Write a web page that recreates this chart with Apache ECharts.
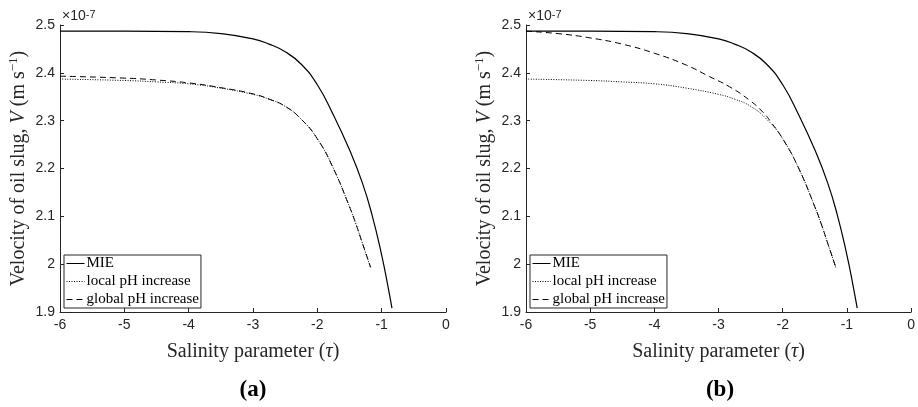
<!DOCTYPE html>
<html>
<head>
<meta charset="utf-8">
<script src="https://cdn.jsdelivr.net/npm/echarts@6/dist/echarts.min.js"></script>
<style>
    html, body { margin: 0; padding: 0; background: #fff; }
    #chart { width: 918px; height: 407px; }
</style>
</head>
<body>
<div id="chart"></div>
<script>
// values in units of 1e-7 m/s
var xTicks = [-6, -5, -4, -3, -2, -1, 0];
var yTicks = [1.9, 2, 2.1, 2.2, 2.3, 2.4, 2.5];

var mieX = [-6, -5, -4, -3.5, -3, -2.75, -2.5, -2.25, -2, -1.75, -1.5, -1.3, -1.15, -1, -0.9, -0.84];
var mieV = [2.487, 2.487, 2.486, 2.482, 2.471, 2.460, 2.444, 2.418, 2.375, 2.312, 2.239, 2.170, 2.103, 2.019, 1.952, 1.908];

var localX = [-6, -5, -4.5, -4, -3.5, -3, -2.75, -2.5, -2.25, -2, -1.75, -1.5, -1.4, -1.3, -1.17];
var localV = [2.387, 2.384, 2.381, 2.377, 2.368, 2.355, 2.345, 2.330, 2.303, 2.262, 2.200, 2.120, 2.084, 2.044, 1.992];

var globalAX = [-6, -5, -4.5, -4, -3.5, -3, -2.75, -2.5, -2.25, -2, -1.75, -1.5, -1.4, -1.3, -1.17];
var globalAV = [2.393, 2.389, 2.385, 2.379, 2.369, 2.356, 2.345, 2.330, 2.303, 2.262, 2.200, 2.120, 2.084, 2.044, 1.993];

var globalBX = [-6, -5.5, -5, -4.5, -4, -3.5, -3.14, -2.83, -2.52, -2.31, -2.2, -2, -1.75, -1.5, -1.4, -1.3, -1.17];
var globalBV = [2.487, 2.482, 2.473, 2.460, 2.441, 2.416, 2.392, 2.371, 2.343, 2.318, 2.300, 2.262, 2.200, 2.120, 2.084, 2.044, 1.992];

var seriesNames = ['MIE', 'local pH increase', 'global pH increase'];
var panelLabels = ['(a)', '(b)'];

var axisColor = '#262626';
var serif = '"Liberation Serif", "DejaVu Serif", serif';
var sans = '"Liberation Sans", Arial, sans-serif';

function pairs(xs, ys) {
    var out = [];
    for (var i = 0; i < xs.length; i++) {
        out.push([xs[i], ys[i]]);
    }
    return out;
}

function lineSeries(name, idx, xs, ys, type, width) {
    return {
        name: name,
        type: 'line',
        xAxisIndex: idx,
        yAxisIndex: idx,
        data: pairs(xs, ys),
        symbol: 'none',
        smooth: 0.5,
        lineStyle: { color: '#000', width: width, type: type },
        itemStyle: { color: '#000' },
        z: 3
    };
}

function xAxisFor(idx) {
    return {
        type: 'value',
        gridIndex: idx,
        position: 'bottom',
        min: xTicks[0],
        max: xTicks[xTicks.length - 1],
        interval: 1,
        name: 'Salinity parameter ({i|τ})',
        nameLocation: 'middle',
        nameGap: 30,
        nameTextStyle: {
            fontFamily: serif, fontSize: 20, color: axisColor,
            rich: { i: { fontFamily: serif, fontSize: 20, fontStyle: 'italic', color: axisColor } }
        },
        axisLine: { onZero: false, lineStyle: { color: axisColor, width: 1 } },
        axisTick: { inside: true, length: 4, lineStyle: { color: axisColor } },
        axisLabel: { fontFamily: sans, fontSize: 14, color: axisColor, margin: 6 },
        splitLine: { show: false }
    };
}

function yAxisFor(idx) {
    return {
        type: 'value',
        gridIndex: idx,
        position: 'left',
        min: yTicks[0],
        max: yTicks[yTicks.length - 1],
        interval: 0.1,
        name: 'Velocity of oil slug, {i|V} (m s{sup|−1})',
        nameLocation: 'middle',
        nameGap: 29,
        nameTextStyle: {
            fontFamily: serif, fontSize: 20, color: axisColor, lineHeight: 24,
            rich: {
                i: { fontFamily: serif, fontSize: 20, fontStyle: 'italic', color: axisColor, lineHeight: 24 },
                sup: { fontFamily: serif, fontSize: 13, color: axisColor, verticalAlign: 'top', lineHeight: 13 }
            }
        },
        axisLine: { show: true, onZero: false, lineStyle: { color: axisColor, width: 1 } },
        axisTick: { inside: true, length: 4, lineStyle: { color: axisColor } },
        axisLabel: {
            fontFamily: sans, fontSize: 14, color: axisColor, margin: 5,
            formatter: function (v) { return String(+v.toFixed(2)); }
        },
        splitLine: { show: false }
    };
}

function legendFor(left) {
    return {
        orient: 'vertical',
        left: left,
        top: 255,
        data: seriesNames,
        itemWidth: 18,
        itemHeight: 14,
        itemGap: 3,
        padding: [1, 2, 1, 2],
        borderColor: axisColor,
        borderWidth: 1,
        backgroundColor: '#fff',
        selectedMode: false,
        // hide the marker circle, keep only the line
        itemStyle: { color: 'rgba(0,0,0,0)', borderWidth: 0 },
        lineStyle: { width: 1 },
        textStyle: { fontFamily: serif, fontSize: 15, color: '#000', padding: [0, 0, 0, -3] }
    };
}

function exponentText(x) {
    return {
        type: 'text',
        left: x,
        top: 9,
        style: {
            text: '×10{s|-7}',
            fontFamily: sans,
            fontSize: 14,
            fill: axisColor,
            rich: { s: { fontFamily: sans, fontSize: 11, fill: axisColor, verticalAlign: 'top' } }
        }
    };
}

function panelText(label, cx) {
    return {
        type: 'text',
        x: cx,
        y: 390,
        style: {
            text: label,
            fontFamily: serif,
            fontWeight: 'bold',
            fontSize: 23,
            fill: '#000',
            align: 'center',
            verticalAlign: 'middle'
        }
    };
}

var chart = echarts.init(document.getElementById('chart'));
chart.setOption({
    animation: false,
    backgroundColor: '#fff',
    grid: [
        { left: 60, top: 25, width: 386, height: 287 },
        { left: 526, top: 25, width: 386, height: 287 }
    ],
    xAxis: [xAxisFor(0), xAxisFor(1)],
    yAxis: [yAxisFor(0), yAxisFor(1)],
    legend: [legendFor(64), legendFor(530)],
    series: [
        lineSeries(seriesNames[0], 0, mieX, mieV, 'solid', 1.2),
        lineSeries(seriesNames[1], 0, localX, localV, [1, 1.5], 1),
        lineSeries(seriesNames[2], 0, globalAX, globalAV, [6, 4], 1),
        lineSeries(seriesNames[0], 1, mieX, mieV, 'solid', 1.2),
        lineSeries(seriesNames[1], 1, localX, localV, [1, 1.5], 1),
        lineSeries(seriesNames[2], 1, globalBX, globalBV, [6, 4], 1)
    ],
    graphic: [
        exponentText(62),
        exponentText(528),
        panelText(panelLabels[0], 253),
        panelText(panelLabels[1], 720)
    ]
});
</script>
</body>
</html>
